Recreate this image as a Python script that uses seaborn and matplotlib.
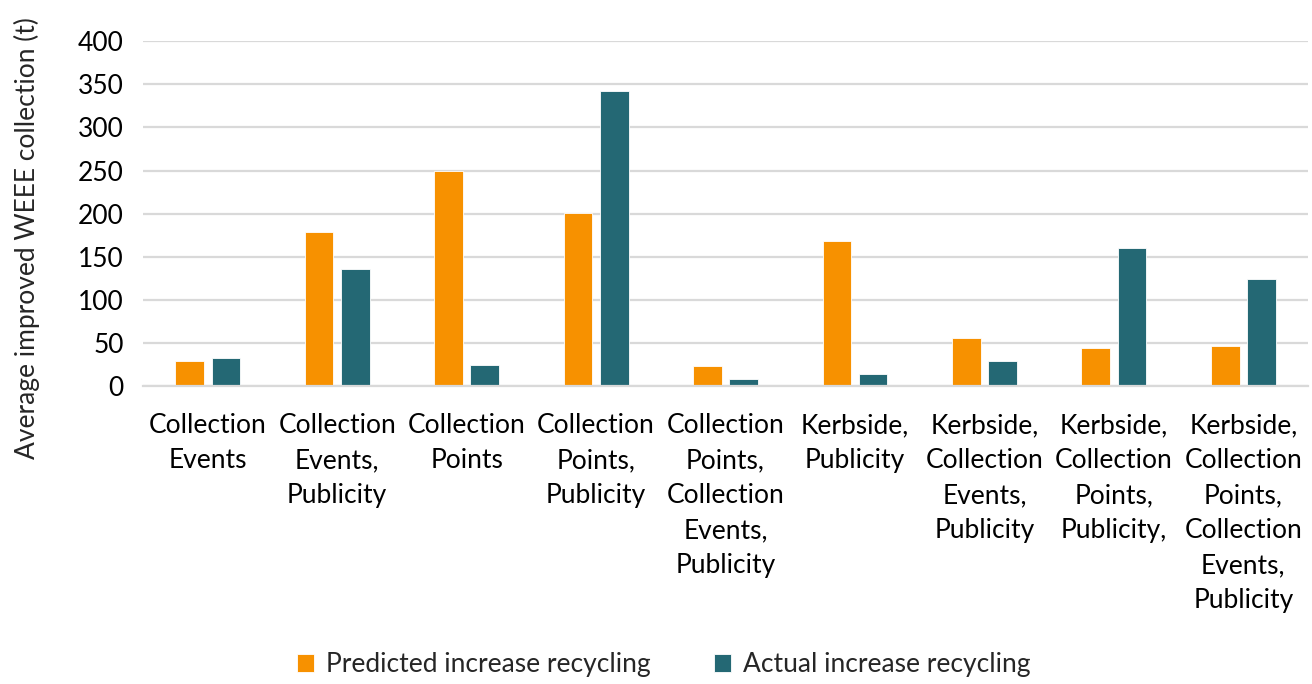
import pandas as pd
import matplotlib
matplotlib.use("Agg")
import matplotlib.pyplot as plt
import seaborn as sns

# Data
categories = [
    "Collection\nEvents",
    "Collection\nEvents,\nPublicity",
    "Collection\nPoints",
    "Collection\nPoints,\nPublicity",
    "Collection\nPoints,\nCollection\nEvents,\nPublicity",
    "Kerbside,\nPublicity",
    "Kerbside,\nCollection\nEvents,\nPublicity",
    "Kerbside,\nCollection\nPoints,\nPublicity,",
    "Kerbside,\nCollection\nPoints,\nCollection\nEvents,\nPublicity",
]
predicted = [29, 179, 250, 201, 24, 169, 56, 45, 47]
actual = [33, 136, 25, 342, 9, 14, 30, 160, 125]
series_names = ["Predicted increase recycling", "Actual increase recycling"]
yticks = [0, 50, 100, 150, 200, 250, 300, 350, 400]

df = pd.DataFrame({
    "category": categories * 2,
    "series": [series_names[0]] * len(categories) + [series_names[1]] * len(categories),
    "value": predicted + actual,
})

sns.set_theme(style="white")
plt.rcParams["font.family"] = ["Lato", "DejaVu Sans"]

fig = plt.figure(figsize=(13.12, 6.84), dpi=100)
ax = fig.add_axes([0.109, 0.435, 0.888, 0.505])

sns.barplot(data=df, x="category", y="value", hue="series",
            order=categories, hue_order=series_names,
            palette=["#F79100", "#246874"], saturation=1,
            width=0.56, gap=0.21, ax=ax, legend=True,
            edgecolor="white", linewidth=0.6)

ax.set_ylim(0, 400)
ax.set_yticks(yticks)
ax.set_xlim(-0.5, len(categories) - 0.5)
ax.yaxis.grid(True, color="#d9d9d9", linewidth=1.6)
ax.set_axisbelow(True)
for s in ["top", "right", "left"]:
    ax.spines[s].set_visible(False)
ax.spines["bottom"].set_color("#d9d9d9")
ax.spines["bottom"].set_linewidth(1.6)

ax.tick_params(axis="y", labelsize=19, colors="black", length=0, pad=14)
ax.tick_params(axis="x", labelsize=19, colors="black", length=0, pad=19)
for lbl in ax.get_xticklabels():
    lbl.set_linespacing(1.5)
    lbl.set_verticalalignment("top")

ax.set_xlabel("")
ax.set_ylabel("Average improved WEEE collection (t)", fontsize=19, labelpad=12)
ax.yaxis.set_label_coords(-0.088, 0.43)

ax.get_legend().remove()
handles, labels = ax.get_legend_handles_labels()
fig.legend(handles, labels, loc="lower center", bbox_to_anchor=(0.506, -0.025),
           ncol=2, frameon=False, fontsize=19, handlelength=0.65,
           handleheight=0.65, columnspacing=2.4, handletextpad=0.45)

fig.savefig("out.png", dpi=100)
